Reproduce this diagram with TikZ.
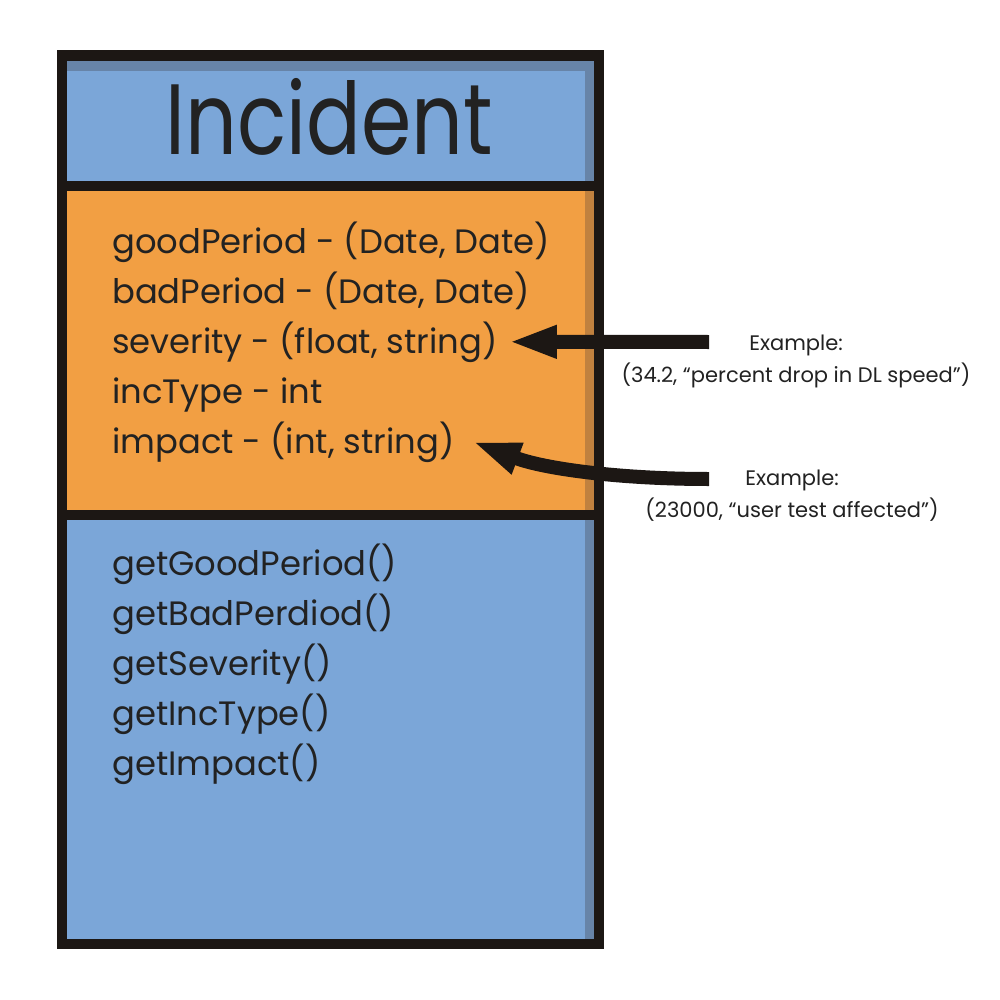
\documentclass[tikz,border=0pt]{standalone}
\usepackage{fontspec}
\usepackage{graphicx}
\setmainfont{Poppins}
\usetikzlibrary{arrows.meta}
\definecolor{frame}{HTML}{1C1714}
\definecolor{lblue}{HTML}{7BA6D8}
\definecolor{dblue}{HTML}{6784A8}
\definecolor{lorange}{HTML}{F29F43}
\definecolor{dorange}{HTML}{C0813F}
\definecolor{ink}{HTML}{222222}
\begin{document}
\begin{tikzpicture}[x=1pt,y=-1pt,
  attr/.style={anchor=base west,inner sep=0pt,text=ink,font=\fontsize{33.8}{40}\selectfont},
  title/.style={anchor=base,inner sep=0pt,text=ink,font=\fontsize{100}{110}\selectfont},
  note/.style={anchor=base,inner sep=0pt,text=ink,align=center,font=\fontsize{21}{32}\selectfont},
  bigarrow/.style={line width=14pt,draw=frame,-{Triangle[length=48pt,width=30pt]}}]
\useasboundingbox (0,0) rectangle (1000,1000);
\fill[white] (0,0) rectangle (1000,1000);
% frame and panels
\fill[frame] (57,50) rectangle (604,949);
\fill[dblue] (67,61) rectangle (594,181);
\fill[lblue] (67,71) rectangle (585,181);
\fill[dorange] (67,191) rectangle (594,510);
\fill[lorange] (67,191) rectangle (585,510);
\fill[dblue] (67,520) rectangle (594,939);
\fill[lblue] (67,520) rectangle (585,939);
% title
\node[title] (t) at (329,155) {\scalebox{0.81}[1]{Incident}};
% attributes
\node[attr] (a1) at (112,253) {goodPeriod - (Date, Date)};
\node[attr] (a2) at (112,303) {badPeriod - (Date, Date)};
\node[attr] (a3) at (112,353) {severity - (float, string)};
\node[attr] (a4) at (112,403) {incType - int};
\node[attr] (a5) at (112,453) {impact - (int, string)};
% methods
\node[attr] (m1) at (112,575) {getGoodPeriod()};
\node[attr] (m2) at (112,625) {getBadPerdiod()};
\node[attr] (m3) at (112,675) {getSeverity()};
\node[attr] (m4) at (112,725) {getIncType()};
\node[attr] (m5) at (112,775) {getImpact()};
% examples
\node[note] (e1) at (796,382) {Example:\\(34.2, “percent drop in DL speed”)};
\node[note] (e2) at (792,517) {Example:\\(23000, “user test affected”)};
% arrows
\coordinate (s1) at (709,342);
\coordinate (s2) at (709,479);
\draw[bigarrow] (s1) -- ([xshift=11pt]a3.east);
\draw[bigarrow] (s2) .. controls (620,479) and (545,469) .. ([xshift=18pt]a5.east);
\end{tikzpicture}
\end{document}
